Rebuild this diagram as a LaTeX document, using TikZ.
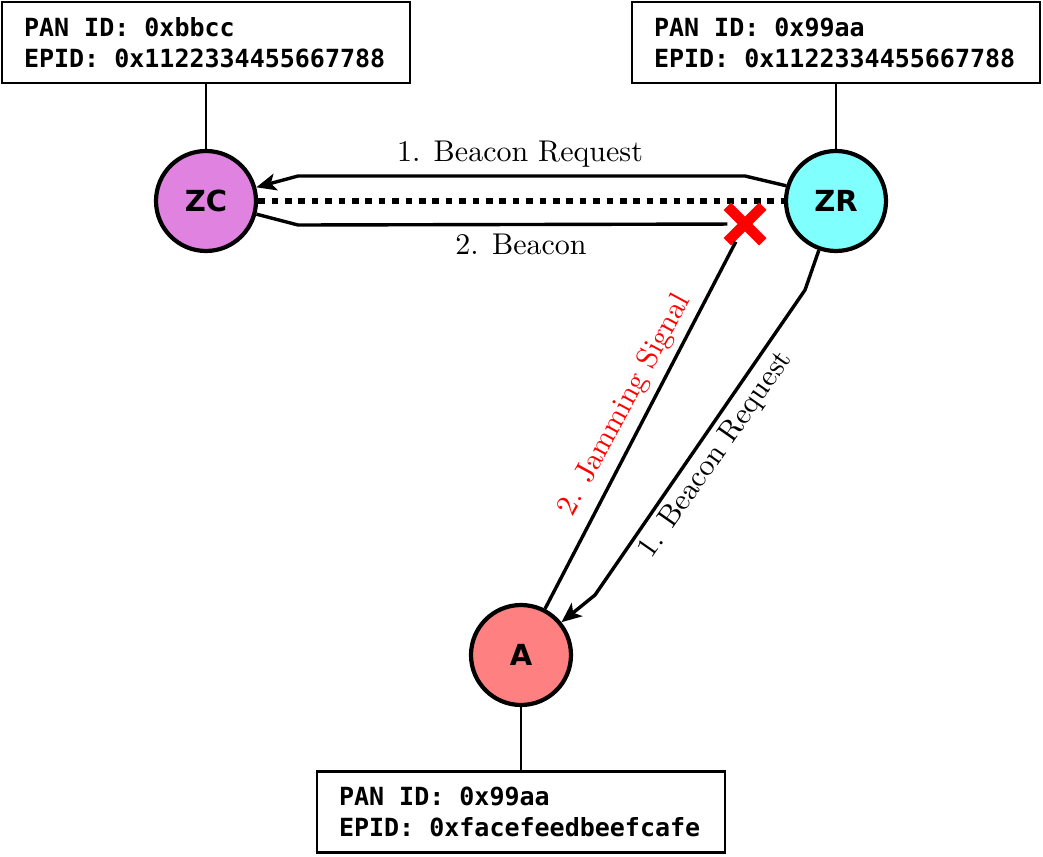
\documentclass[tikz,border=0pt]{standalone}
\usepackage{fontspec}
\newfontfamily\monof{DejaVu Sans Mono Bold}
\newfontfamily\sansf{DejaVu Sans Bold}
\newfontfamily\lmten{lmroman10-regular.otf}
\DeclareRobustCommand\monoset{\monof\fontsize{25}{31}\selectfont}
\newcommand\gap{\hspace*{0.602em}}
\usetikzlibrary{arrows.meta,shapes.misc}
\definecolor{zcfill}{RGB}{224,130,224}
\definecolor{zrfill}{RGB}{128,255,255}
\definecolor{afill}{RGB}{255,128,128}
\begin{document}
\begin{tikzpicture}[x=1pt,y=-1pt,
 station/.style={circle, draw, line width=4.2pt, minimum size=100pt, inner sep=0pt, font=\sansf\fontsize{29}{34}\selectfont},
 infobox/.style={draw, line width=2.2pt, minimum width=408pt, minimum height=81pt, text width=364pt, inner xsep=22pt, inner ysep=0pt, align=left, font=\monoset},
 tether/.style={line width=2pt},
 msg/.style={line width=3.4pt},
 arr/.style={-{Stealth[length=20pt,width=17pt,inset=5pt]}},
 lbl/.style={font=\lmten\fontsize{30}{36}\selectfont, inner sep=0pt},
]
\useasboundingbox (0,0) rectangle (1043,856);

\node[infobox] (bZC) at (206,42.5) {PAN\gap ID:\gap 0xbbcc\\EPID:\gap 0x1122334455667788};
\node[infobox] (bZR) at (836,42.5) {PAN\gap ID:\gap 0x99aa\\EPID:\gap 0x1122334455667788};
\node[infobox] (bA) at (521,812) {PAN\gap ID:\gap 0x99aa\\EPID:\gap 0xfacefeedbeefcafe};

\node[station, fill=zcfill] (ZC) at (206,201) {ZC};
\node[station, fill=zrfill] (ZR) at (836,201) {ZR};
\node[station, fill=afill] (A) at (521,655) {A};

\draw[tether] (bZC) -- (ZC);
\draw[tether] (bZR) -- (ZR);
\draw[tether] (bA) -- (A);

\draw[line width=6.7pt, dash pattern=on 6.7pt off 6.7pt] (ZC) -- (ZR);

\node[cross out, draw=red, line width=10.5pt, minimum size=25pt, inner sep=0pt] (X) at (745,224) {};

\draw[msg, arr] (ZR.163) -- (745,176) -- (298,176) -- (ZC);
\draw[msg] (ZC) -- (298,225) -- (X);
\draw[msg] (X) -- (A);
\draw[msg, arr] (ZR) -- (805,290) -- (595,595) -- (A);

\node[lbl, anchor=base] (l1) at (520,161) {1. Beacon Request};
\node[lbl, anchor=base] (l2) at (521,254) {2. Beacon};
\node[lbl, text=red, rotate=61.5] (l3) at (625,405) {2. Jamming Signal};
\node[lbl, rotate=55] (l4) at (716,455) {1. Beacon Request};
\end{tikzpicture}
\end{document}
